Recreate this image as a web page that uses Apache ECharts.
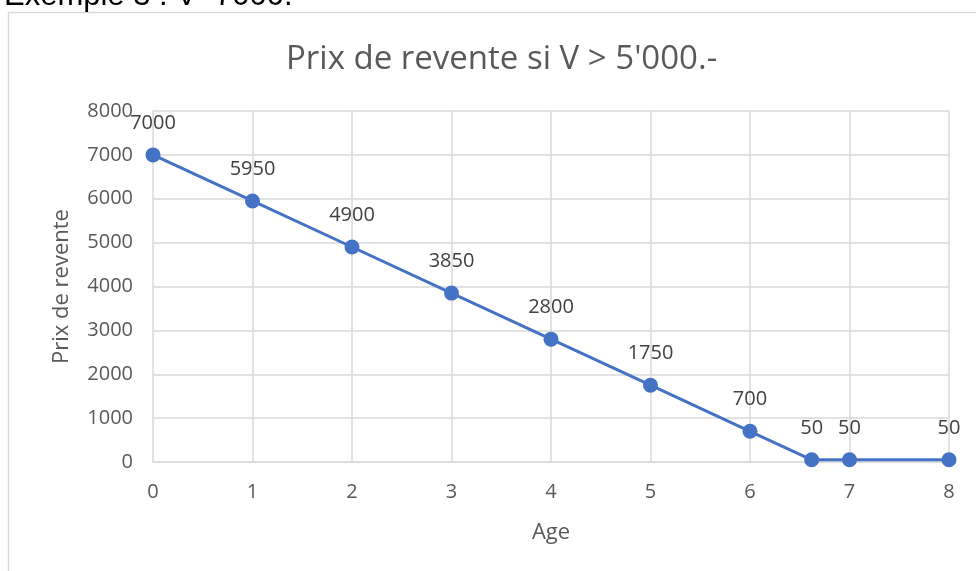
<!DOCTYPE html>
<html>

<head>
    <meta charset="utf-8" />
    <title>ECharts</title>
    <script src="https://cdn.jsdelivr.net/npm/echarts@6/dist/echarts.min.js"></script>
</head>
<style>
    html,
    body {
        margin: 0;
        padding: 0;
        background: #fff;
    }
</style>

<body>
    <div id="main" style="width: 976px;height:571px;"></div>
    <script type="text/javascript">
        // données
        var ages = [0, 1, 2, 3, 4, 5, 6, 6.62, 7, 8];
        var prix = [7000, 5950, 4900, 3850, 2800, 1750, 700, 50, 50, 50];
        var yTicks = [0, 1000, 2000, 3000, 4000, 5000, 6000, 7000, 8000];
        var xTicks = [0, 1, 2, 3, 4, 5, 6, 7, 8];

        var font = '"Open Sans", "Noto Sans", sans-serif';
        var grey = '#595959';

        var points = [];
        for (var i = 0; i < ages.length; i++) {
            points.push([ages[i], prix[i]]);
        }

        var myChart = echarts.init(document.getElementById('main'));
        var option = {
            animation: false,
            graphic: [{
                type: 'rect',
                shape: { x: 8.5, y: 12.5, width: 1000, height: 700 },
                style: { fill: 'none', stroke: '#d9d9d9', lineWidth: 1.5 },
                z: 0
            }, {
                type: 'text',
                left: 4,
                top: -19,
                style: {
                    text: 'Exemple 3 : V=7000.',
                    font: '31px "Liberation Sans", Arial, sans-serif',
                    fill: '#000'
                }
            }],
            title: {
                text: "Prix de revente si V > 5'000.-",
                left: 281,
                top: 38,
                textStyle: {
                    fontFamily: font,
                    fontSize: 33,
                    fontWeight: 'normal',
                    color: grey
                }
            },
            grid: {
                left: 153,
                right: 27,
                top: 111,
                bottom: 109
            },
            xAxis: {
                type: 'value',
                min: xTicks[0],
                max: xTicks[xTicks.length - 1],
                interval: 1,
                name: 'Age',
                nameLocation: 'middle',
                nameGap: 60,
                nameTextStyle: { fontFamily: font, fontSize: 22, color: grey },
                axisLine: { show: true, lineStyle: { color: '#d9d9d9', width: 1.5 } },
                axisTick: { show: false },
                axisLabel: { fontFamily: font, fontSize: 20, color: grey, margin: 20 },
                splitLine: { show: true, lineStyle: { color: '#d9d9d9', width: 1.5 } }
            },
            yAxis: {
                type: 'value',
                min: yTicks[0],
                max: yTicks[yTicks.length - 1],
                interval: 1000,
                name: 'Prix de revente',
                nameLocation: 'middle',
                nameGap: 80,
                nameTextStyle: { fontFamily: font, fontSize: 22, color: grey },
                axisLine: { show: false },
                axisTick: { show: false },
                axisLabel: {
                    fontFamily: font,
                    fontSize: 20,
                    color: grey,
                    margin: 20,
                    formatter: function (v) { return String(v); }
                },
                splitLine: { show: true, lineStyle: { color: '#d9d9d9', width: 1.5 } }
            },
            series: [{
                name: 'Prix de revente',
                type: 'line',
                data: points,
                symbol: 'circle',
                symbolSize: 15,
                lineStyle: { color: '#4472C4', width: 3 },
                itemStyle: { color: '#4472C4' },
                label: {
                    show: true,
                    position: 'top',
                    distance: 14,
                    fontFamily: font,
                    fontSize: 20,
                    color: '#404040',
                    formatter: function (p) { return p.value[1]; }
                }
            }]
        };
        myChart.setOption(option);
    </script>
</body>

</html>
